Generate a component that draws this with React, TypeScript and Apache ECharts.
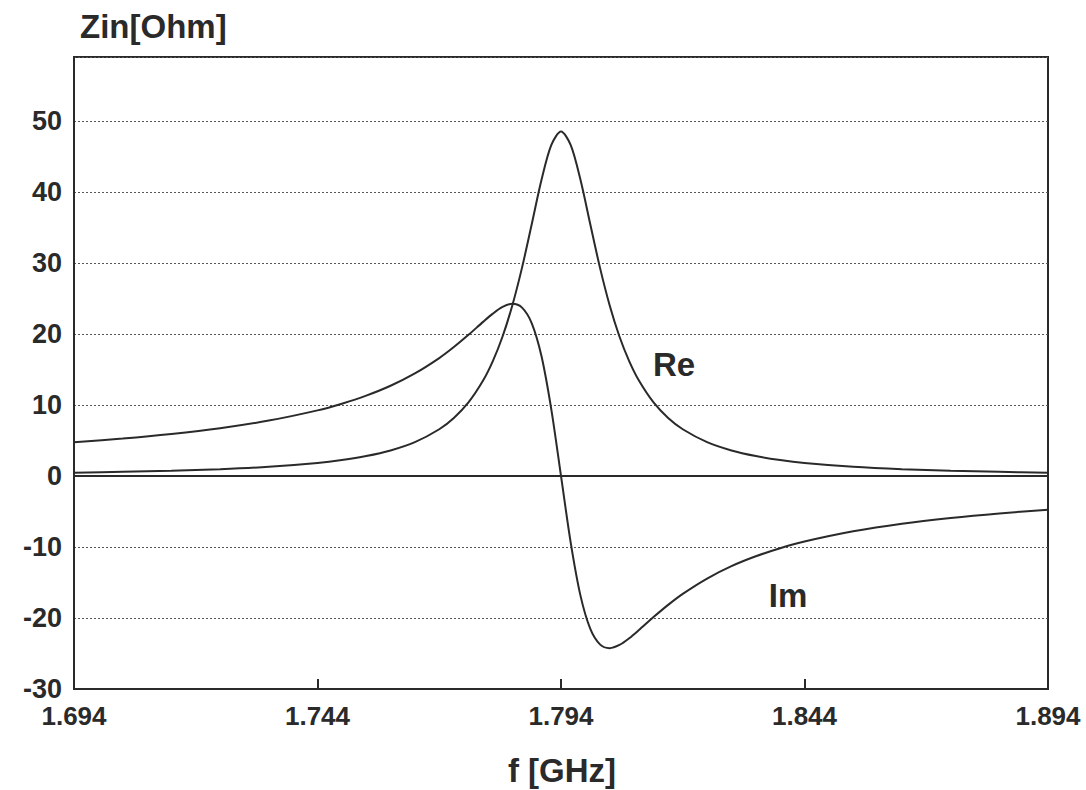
import React, { useEffect, useRef } from "react";
import * as echarts from "echarts";

const freqGHz = [
  1.694, 1.704, 1.714, 1.724, 1.734, 1.744, 1.749, 1.754, 1.759, 1.764, 1.769, 1.772, 1.775, 1.778,
  1.78, 1.782, 1.784, 1.786, 1.788, 1.79, 1.792, 1.794, 1.796, 1.798, 1.8, 1.802, 1.804, 1.806,
  1.808, 1.81, 1.813, 1.816, 1.819, 1.824, 1.829, 1.834, 1.839, 1.844, 1.854, 1.864, 1.874, 1.884,
  1.894,
];
const reOhm = [
  0.47, 0.58, 0.73, 0.95, 1.29, 1.83, 2.24, 2.8, 3.59, 4.76, 6.58, 8.17, 10.35, 13.43, 16.17, 19.64,
  24.01, 29.34, 35.48, 41.7, 46.59, 48.5, 46.59, 41.7, 35.48, 29.34, 24.01, 19.64, 16.17, 13.43,
  10.35, 8.17, 6.58, 4.76, 3.59, 2.8, 2.24, 1.83, 1.29, 0.95, 0.73, 0.58, 0.47,
];
const imOhm = [
  4.76, 5.27, 5.91, 6.72, 7.8, 9.24, 10.18, 11.31, 12.7, 14.44, 16.6, 18.15, 19.87, 21.7, 22.86,
  23.8, 24.25, 23.71, 21.5, 16.85, 9.41, 0, -9.41, -16.85, -21.5, -23.71, -24.25, -23.8, -22.86,
  -21.7, -19.87, -18.15, -16.6, -14.44, -12.7, -11.31, -10.18, -9.24, -7.8, -6.72, -5.91, -5.27,
  -4.76,
];
const yTicks = [-30, -20, -10, 0, 10, 20, 30, 40, 50];
const xTicks = ["1.694", "1.744", "1.794", "1.844", "1.894"];

const FONT = "'Liberation Sans', Arial, sans-serif";
const INK = "#2a2a2a";

export default function App() {
  const ref = useRef<HTMLDivElement>(null);
  useEffect(() => {
    if (!ref.current) return;
    const chart = echarts.init(ref.current, undefined, { renderer: "svg" });
    const reData = freqGHz.map((f, i) => [f, reOhm[i]]);
    const imData = freqGHz.map((f, i) => [f, imOhm[i]]);
    chart.setOption({
      animation: false,
      backgroundColor: "#ffffff",
      grid: {
        left: 74,
        right: 38,
        top: 57,
        bottom: 101,
        show: true,
        borderColor: INK,
        borderWidth: 2,
        containLabel: false,
      },
      xAxis: {
        type: "value",
        min: 1.694,
        max: 1.894,
        interval: 0.05,
        axisLine: { show: true, onZero: false, lineStyle: { color: INK, width: 2 } },
        axisTick: { show: true, inside: true, length: 10, lineStyle: { color: INK, width: 2 } },
        splitLine: { show: false },
        axisLabel: {
          margin: 14,
          color: INK,
          fontFamily: FONT,
          fontWeight: "bold",
          fontSize: 26,
          showMaxLabel: true,
          showMinLabel: true,
          formatter: (v: number) => {
            const s = v.toFixed(3);
            return xTicks.includes(s) ? s : "";
          },
        },
      },
      yAxis: {
        type: "value",
        min: -30,
        max: 59,
        interval: 10,
        axisLine: { show: true, lineStyle: { color: INK, width: 2 } },
        axisTick: { show: false },
        splitLine: { show: true, lineStyle: { color: "#555", width: 1.2, type: [2, 2] } },
        axisLabel: {
          margin: 12,
          color: INK,
          fontFamily: FONT,
          fontWeight: "bold",
          fontSize: 27,
          formatter: (v: number) =>
            yTicks.includes(Math.round(v)) && Math.abs(v - Math.round(v)) < 1e-6 ? String(Math.round(v)) : "",
        },
      },
      graphic: [
        {
          type: "text",
          left: 80,
          top: 10,
          style: { text: "Zin[Ohm]", fontFamily: FONT, fontWeight: "bold", fontSize: 33, fill: INK },
        },
        {
          type: "text",
          x: 562,
          y: 770,
          style: {
            text: "f [GHz]",
            fontFamily: FONT,
            fontWeight: "bold",
            fontSize: 33,
            fill: INK,
            align: "center",
            verticalAlign: "middle",
          },
        },
        {
          type: "text",
          x: 674,
          y: 364,
          style: {
            text: "Re",
            fontFamily: FONT,
            fontWeight: "bold",
            fontSize: 33,
            fill: INK,
            align: "center",
            verticalAlign: "middle",
          },
        },
        {
          type: "text",
          x: 788,
          y: 595,
          style: {
            text: "Im",
            fontFamily: FONT,
            fontWeight: "bold",
            fontSize: 33,
            fill: INK,
            align: "center",
            verticalAlign: "middle",
          },
        },
      ],
      series: [
        {
          name: "Re",
          type: "line",
          data: reData,
          smooth: 0.3,
          showSymbol: false,
          lineStyle: { color: INK, width: 2 },
          markLine: {
            silent: true,
            symbol: "none",
            label: { show: false },
            lineStyle: { color: INK, width: 2, type: "solid" },
            data: [{ yAxis: 0 }],
          },
        },
        {
          name: "Im",
          type: "line",
          data: imData,
          smooth: 0.3,
          showSymbol: false,
          lineStyle: { color: INK, width: 2 },
        },
      ],
    });
    return () => chart.dispose();
  }, []);
  return (
    <div
      ref={ref}
      style={{ position: "fixed", left: 0, top: 0, width: 1086, height: 790, background: "#fff" }}
    />
  );
}
